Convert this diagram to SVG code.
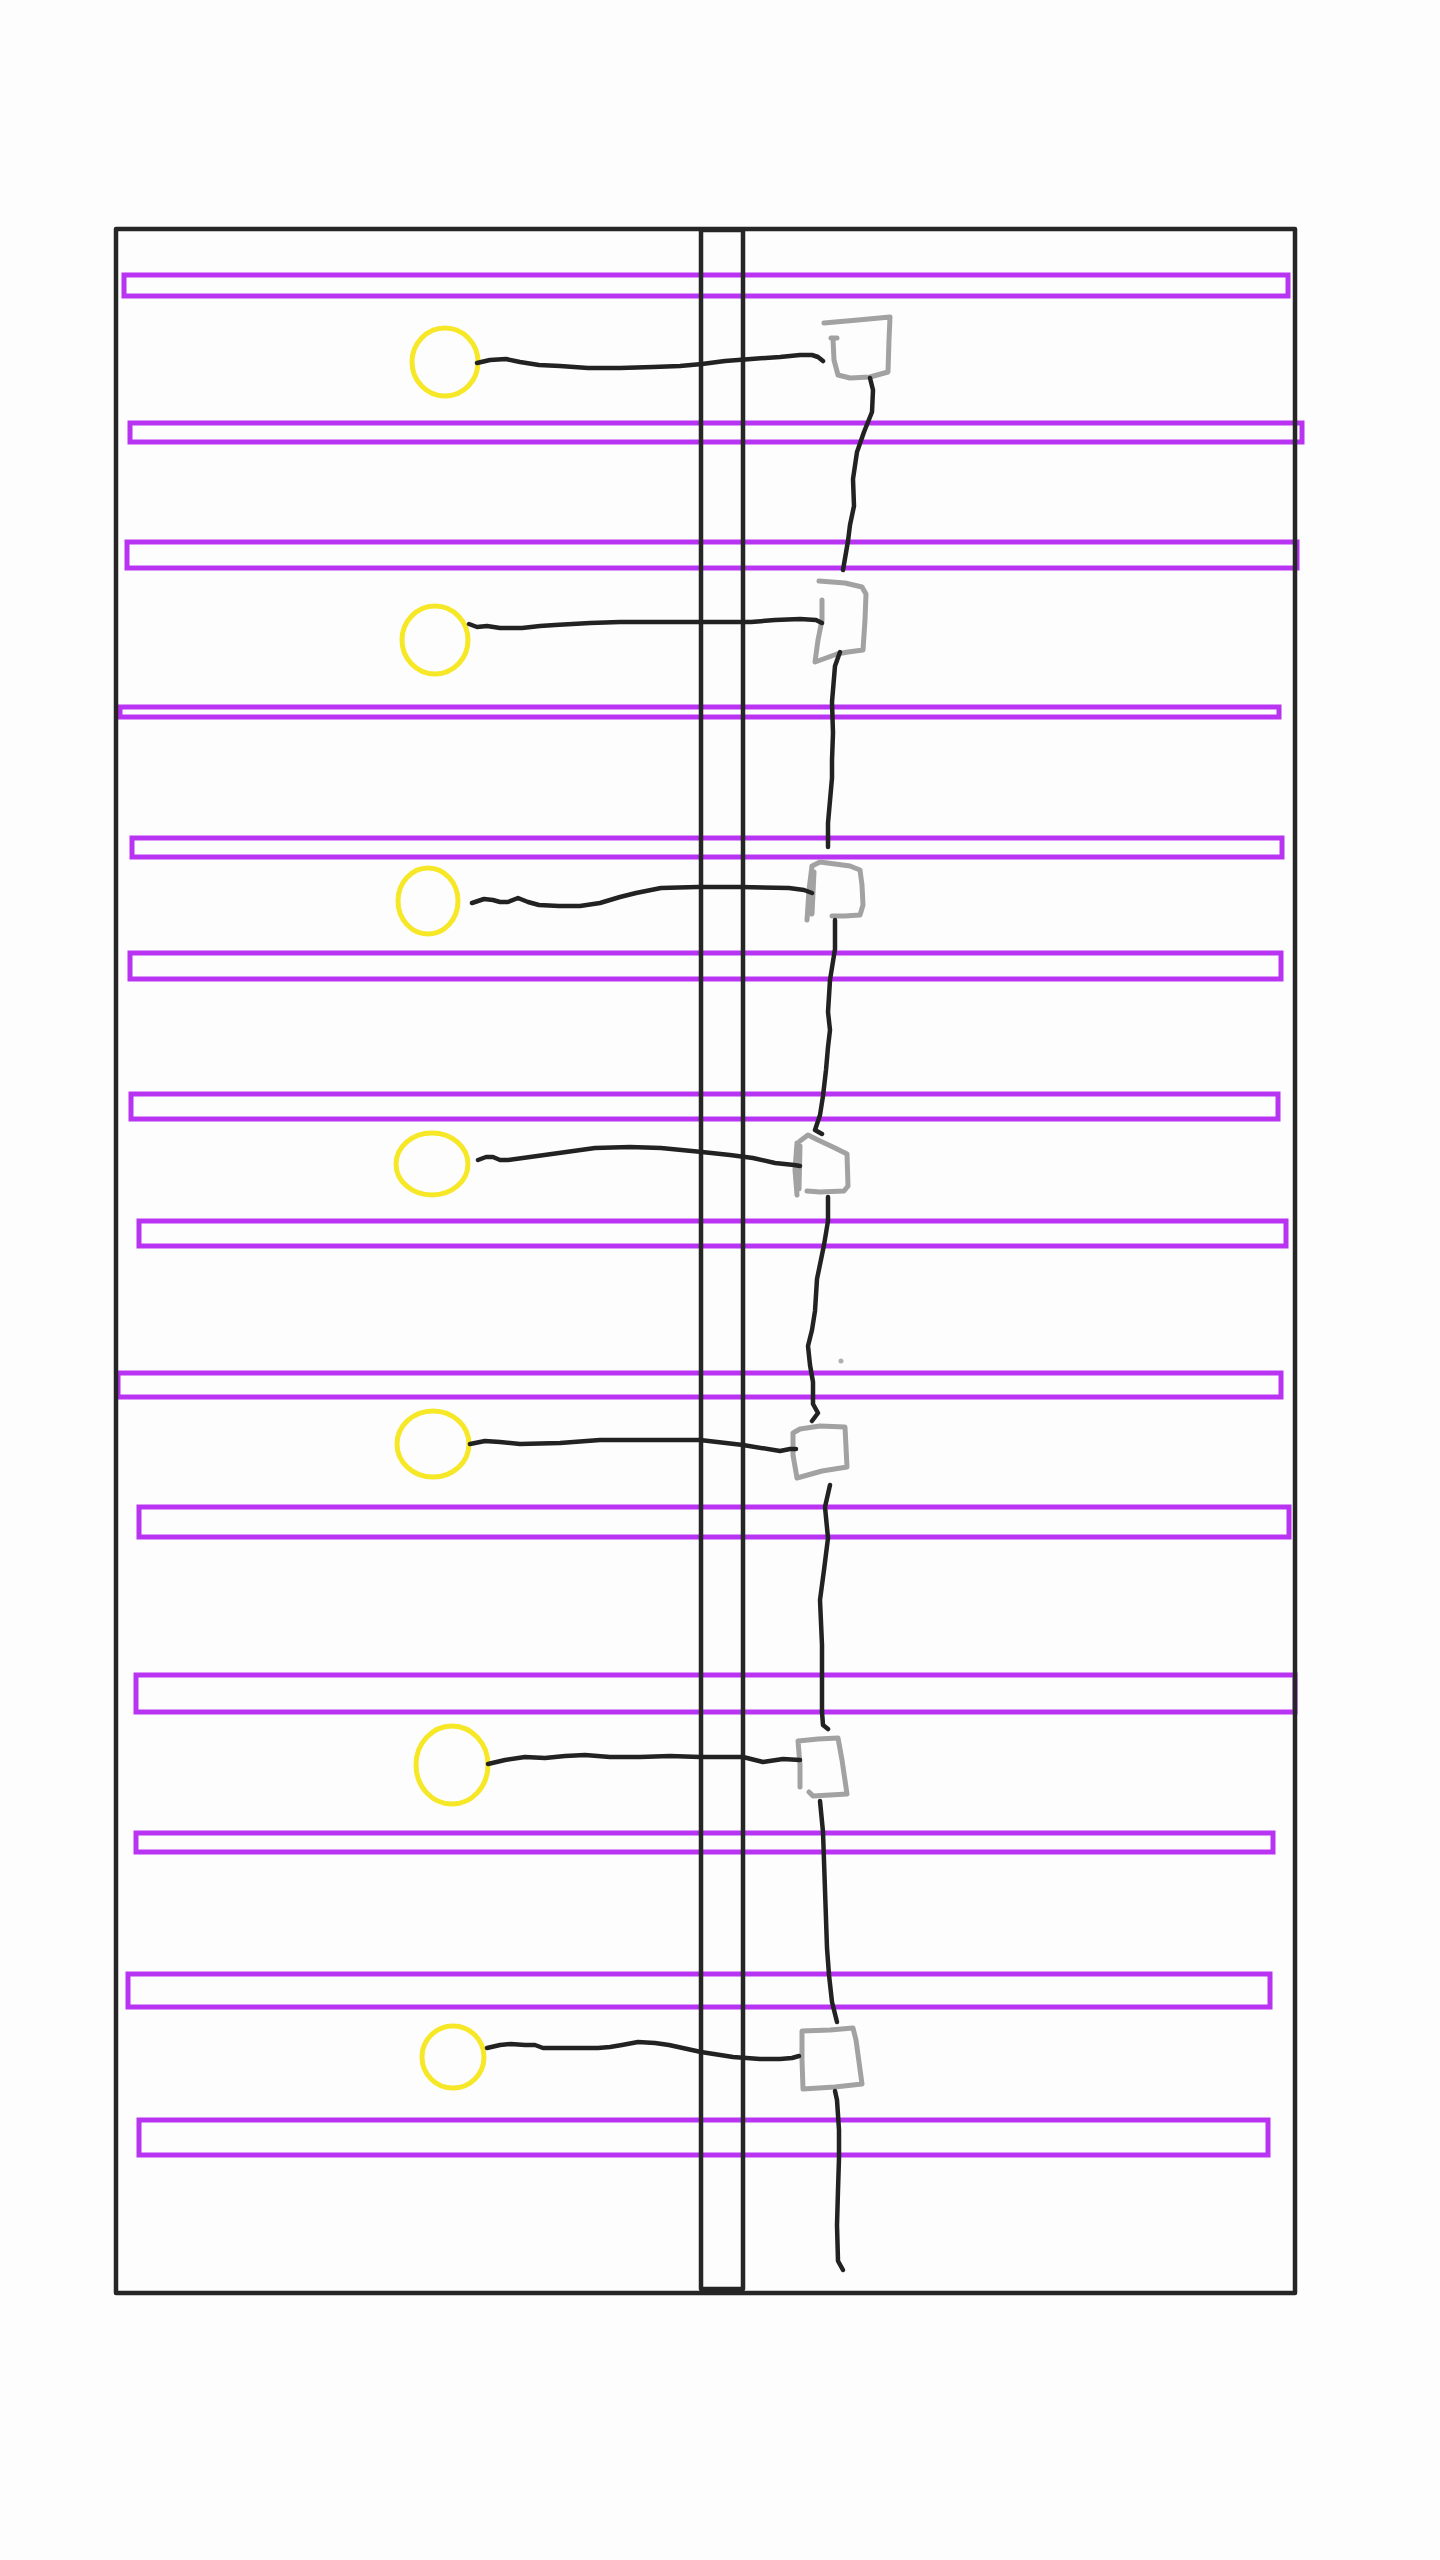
<svg xmlns="http://www.w3.org/2000/svg" width="1440" height="2560" viewBox="0 0 1440 2560">
<style>
.bg{fill:#fdfdfd}
.frame{fill:none;stroke:#262626;stroke-width:4.5;stroke-linejoin:round}
.shelf{fill:none;stroke:#b934f2;stroke-width:5}
.lamp{fill:none;stroke:#f6e826;stroke-width:5}
.box{fill:none;stroke:#a2a2a2;stroke-width:5;stroke-linecap:round;stroke-linejoin:round}
.wire{fill:none;stroke:#222;stroke-width:4.5;stroke-linecap:round;stroke-linejoin:round}
</style>
<rect class="bg" x="0" y="0" width="1440" height="2560"/>
<g id="shelves">
<rect class="shelf" x="124" y="275" width="1164" height="21"/>
<rect class="shelf" x="130" y="423" width="1172" height="19"/>
<rect class="shelf" x="127" y="542" width="1170" height="26"/>
<rect class="shelf" x="120" y="707" width="1159" height="10"/>
<rect class="shelf" x="132" y="838" width="1150" height="19"/>
<rect class="shelf" x="130" y="953" width="1151" height="26"/>
<rect class="shelf" x="131" y="1094" width="1147" height="25"/>
<rect class="shelf" x="139" y="1221" width="1147" height="25"/>
<rect class="shelf" x="118" y="1373" width="1163" height="24"/>
<rect class="shelf" x="139" y="1507" width="1150" height="30"/>
<rect class="shelf" x="136" y="1675" width="1159" height="37"/>
<rect class="shelf" x="136" y="1833" width="1137" height="19"/>
<rect class="shelf" x="128" y="1974" width="1142" height="33"/>
<rect class="shelf" x="139" y="2120" width="1129" height="35"/>
</g>
<g id="frame">
<rect class="frame" x="116" y="229" width="1179" height="2064"/>
<rect class="frame" x="701" y="230" width="42" height="2059"/>
</g>
<g id="lamp1"><ellipse class="lamp" cx="445" cy="362" rx="33" ry="34"/></g>
<g id="lamp2"><ellipse class="lamp" cx="435" cy="640" rx="33" ry="34"/></g>
<g id="lamp3"><ellipse class="lamp" cx="428" cy="901" rx="30" ry="33"/></g>
<g id="lamp4"><ellipse class="lamp" cx="432" cy="1164" rx="36" ry="31"/></g>
<g id="lamp5"><ellipse class="lamp" cx="433" cy="1444" rx="36" ry="33"/></g>
<g id="lamp6"><ellipse class="lamp" cx="452" cy="1765" rx="36" ry="39"/></g>
<g id="lamp7"><ellipse class="lamp" cx="453" cy="2057" rx="31" ry="31"/></g>
<g id="box1"><path class="box" d="M824,323 L858,320 L890,317 L889,340 L888,372 L870,377 L850,378 L838,375 L834,360 L833,339 M831,338 L837,338"/></g>
<g id="box2"><path class="box" d="M819,581 L845,583 L862,587 L866,594 L865,620 L863,650 L848,652 L837,654 L815,662 L818,640 L822,620 L822,600"/></g>
<g id="box3"><path class="box" d="M812,866 L820,862 L835,864 L850,866 L860,870 L862,885 L863,905 L860,915 L845,916 L832,916 M812,866 L809,890 L807,920 M814,872 L812,914"/></g>
<g id="box4"><path class="box" d="M800,1141 L808,1135 L818,1140 L835,1148 L847,1154 L848,1186 L844,1191 L820,1192 L807,1191 M797,1143 L795,1170 L797,1195 M800,1146 L799,1189"/></g>
<g id="box5"><path class="box" d="M800,1429 L820,1426 L845,1427 L846,1447 L847,1467 L822,1471 L797,1478 L793,1455 L793,1433 Z"/></g>
<g id="box6"><path class="box" d="M798,1741 L818,1739 L838,1738 L842,1760 L847,1794 L830,1795 L813,1796 L809,1792 M798,1741 L800,1765 L800,1787"/></g>
<g id="box7"><path class="box" d="M802,2031 L830,2030 L853,2028 L856,2040 L862,2084 L835,2087 L803,2089 L802,2060 Z"/></g>
<g id="connectors">
<path class="wire" d="M477,363 L490,360 L506,359 L520,362 L539,365 L560,366 L588,368 L620,368 L653,367 L680,366 L702,364 L725,361 L751,359 L780,357 L800,355 L812,355 L818,357 L823,361"/>
<path class="wire" d="M870,378 L873,390 L872,412 L864,432 L857,452 L853,479 L854,506 L850,525 L848,541 L843,570"/>
<path class="wire" d="M469,624 L477,627 L487,626 L500,628 L522,628 L540,626 L555,625 L590,623 L620,622 L686,622 L751,622 L775,620 L800,619 L816,620 L822,623"/>
<path class="wire" d="M840,652 L835,666 L832,702 L833,733 L832,760 L832,778 L828,823 L828,847"/>
<path class="wire" d="M472,903 L484,899 L493,900 L500,902 L508,902 L518,898 L528,902 L539,905 L559,906 L580,906 L600,903 L620,897 L636,893 L661,888 L697,887 L740,887 L789,888 L804,890 L812,893"/>
<path class="wire" d="M835,920 L835,949 L830,980 L828,1012 L830,1030 L828,1047 L826,1070 L823,1096 L820,1115 L815,1130 L822,1134"/>
<path class="wire" d="M478,1160 L486,1157 L493,1157 L500,1160 L508,1160 L530,1157 L559,1153 L595,1148 L630,1147 L661,1148 L702,1152 L730,1155 L753,1158 L775,1163 L794,1165 L800,1166"/>
<path class="wire" d="M828,1197 L828,1221 L824,1245 L817,1279 L815,1311 L812,1330 L808,1346 L810,1365 L813,1382 L813,1404 L818,1413 L812,1421"/>
<circle cx="841" cy="1361" r="2.5" fill="#b0b0b0"/>
<path class="wire" d="M470,1444 L485,1441 L500,1442 L520,1444 L560,1443 L600,1440 L640,1440 L700,1440 L743,1445 L780,1451 L790,1449 L796,1449"/>
<path class="wire" d="M830,1485 L825,1507 L828,1538 L824,1570 L820,1600 L822,1645 L822,1712 L823,1725 L828,1729"/>
<path class="wire" d="M488,1764 L505,1760 L525,1757 L545,1758 L565,1756 L585,1755 L610,1757 L640,1757 L670,1756 L700,1757 L743,1757 L763,1762 L783,1759 L800,1760"/>
<path class="wire" d="M820,1801 L823,1832 L825,1890 L827,1948 L829,1975 L832,2002 L837,2022"/>
<path class="wire" d="M487,2048 L500,2045 L511,2044 L525,2045 L535,2045 L543,2048 L570,2048 L598,2048 L610,2047 L622,2045 L638,2042 L655,2043 L669,2045 L701,2052 L733,2057 L760,2059 L780,2059 L792,2058 L799,2056"/>
<path class="wire" d="M835,2091 L837,2100 L839,2130 L839,2158 L838,2190 L837,2225 L838,2261 L843,2270"/>
</g>
</svg>
